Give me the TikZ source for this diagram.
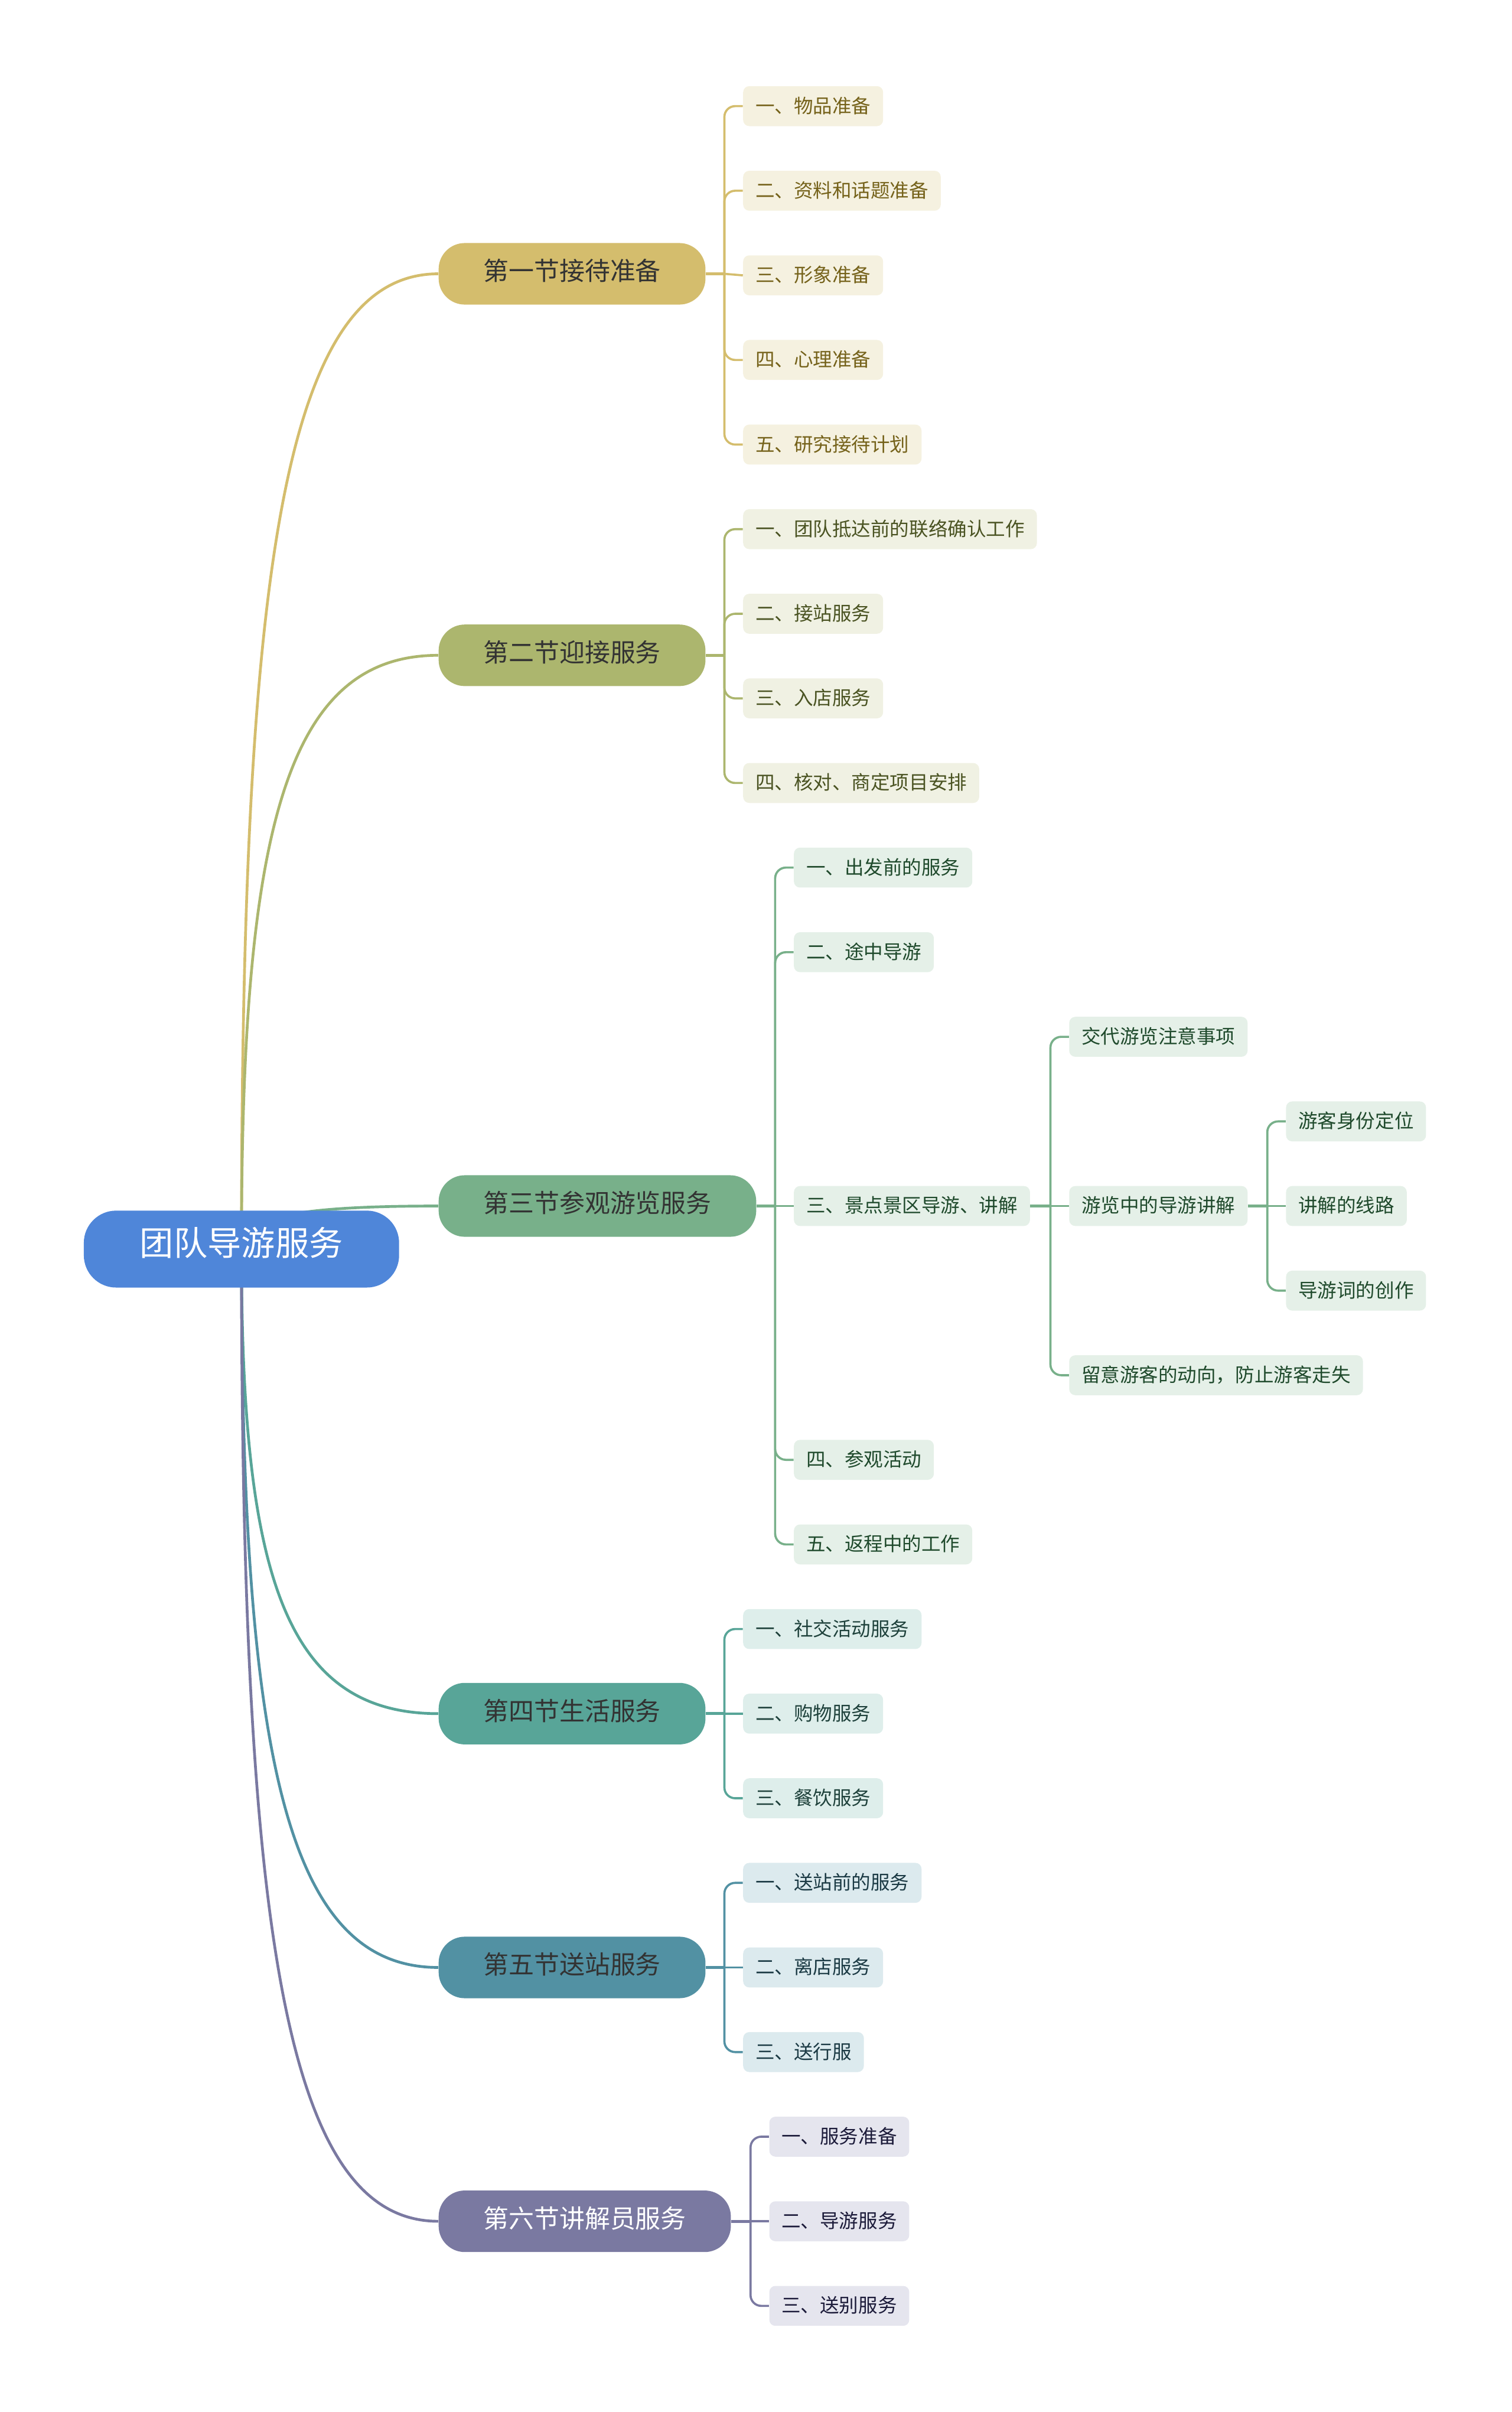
\documentclass[tikz,border=0pt]{standalone}
\usepackage{fontspec}
\setmainfont{Noto Sans CJK SC}
\usepackage{tikz}
\usetikzlibrary{positioning,calc,backgrounds}

\definecolor{rootc}{HTML}{4F86D9}
\definecolor{pillA}{HTML}{D4BD6D}\definecolor{leafA}{HTML}{F5F1E0}\definecolor{txtA}{HTML}{75621A}
\definecolor{pillB}{HTML}{ACB66E}\definecolor{leafB}{HTML}{F0F1E3}\definecolor{txtB}{HTML}{4A5322}
\definecolor{pillC}{HTML}{78B08A}\definecolor{leafC}{HTML}{E5F0E8}\definecolor{txtC}{HTML}{1F4A2C}
\definecolor{pillD}{HTML}{58A598}\definecolor{leafD}{HTML}{DEEEEB}\definecolor{txtD}{HTML}{1E413B}
\definecolor{pillE}{HTML}{5291A3}\definecolor{leafE}{HTML}{DCEAEE}\definecolor{txtE}{HTML}{1B3A44}
\definecolor{pillF}{HTML}{7A79A1}\definecolor{leafF}{HTML}{E5E5EE}\definecolor{txtF}{HTML}{1C1B3A}

\begin{document}
\begin{tikzpicture}[x=1pt, y=-1pt,
  rootnd/.style={fill=rootc, text=white, rounded corners=21pt, minimum width=205pt,
             minimum height=50pt, font=\fontsize{22}{26}\selectfont,
             text height=0.94em, text depth=0.06em},
  sec/.style={rounded corners=17pt, minimum height=40pt, inner xsep=29pt, anchor=west,
             font=\fontsize{16.5}{20}\selectfont, text height=0.94em, text depth=0.06em, text=black!80},
  leaf/.style={rounded corners=4pt, minimum height=26pt, inner xsep=8pt, anchor=west,
             font=\fontsize{12.5}{15}\selectfont, text height=0.94em, text depth=0.06em},
  lk/.style={line width=1.4pt, rounded corners=7pt},
  trunk/.style={line width=1.8pt},
]
\useasboundingbox (0,0) rectangle (983,1568);

% ====== root ======
\node[rootnd] (root) at (157,812) {团队导游服务};

% ====== 1: reception preparation ======
\node[sec, fill=pillA] (s1) at (285,178) {第一节接待准备};
\coordinate (j1) at (471,178);
\node[leaf, fill=leafA, text=txtA] (n1a) at (483,69)  {一、物品准备};
\node[leaf, fill=leafA, text=txtA] (n1b) at (483,124) {二、资料和话题准备};
\node[leaf, fill=leafA, text=txtA] (n1c) at (483,179) {三、形象准备};
\node[leaf, fill=leafA, text=txtA] (n1d) at (483,234) {四、心理准备};
\node[leaf, fill=leafA, text=txtA] (n1e) at (483,289) {五、研究接待计划};

% ====== 2: welcome ======
\node[sec, fill=pillB] (s2) at (285,426) {第二节迎接服务};
\coordinate (j2) at (471,426);
\node[leaf, fill=leafB, text=txtB] (n2a) at (483,344) {一、团队抵达前的联络确认工作};
\node[leaf, fill=leafB, text=txtB] (n2b) at (483,399) {二、接站服务};
\node[leaf, fill=leafB, text=txtB] (n2c) at (483,454) {三、入店服务};
\node[leaf, fill=leafB, text=txtB] (n2d) at (483,509) {四、核对、商定项目安排};

% ====== 3: sightseeing ======
\node[sec, fill=pillC] (s3) at (285,784) {第三节参观游览服务};
\coordinate (j3) at (504,784);
\node[leaf, fill=leafC, text=txtC] (n3a) at (516,564)  {一、出发前的服务};
\node[leaf, fill=leafC, text=txtC] (n3b) at (516,619)  {二、途中导游};
\node[leaf, fill=leafC, text=txtC] (n3c) at (516,784)  {三、景点景区导游、讲解};
\node[leaf, fill=leafC, text=txtC] (n3d) at (516,949)  {四、参观活动};
\node[leaf, fill=leafC, text=txtC] (n3e) at (516,1004) {五、返程中的工作};
\coordinate (j3c) at (683,784);
\node[leaf, fill=leafC, text=txtC] (m3a) at (695,674) {交代游览注意事项};
\node[leaf, fill=leafC, text=txtC] (m3b) at (695,784) {游览中的导游讲解};
\node[leaf, fill=leafC, text=txtC] (m3c) at (695,894) {留意游客的动向，防止游客走失};
\coordinate (j3m) at (824,784);
\node[leaf, fill=leafC, text=txtC] (k3a) at (836,729) {游客身份定位};
\node[leaf, fill=leafC, text=txtC] (k3b) at (836,784) {讲解的线路};
\node[leaf, fill=leafC, text=txtC] (k3c) at (836,839) {导游词的创作};

% ====== 4: daily life ======
\node[sec, fill=pillD] (s4) at (285,1114) {第四节生活服务};
\coordinate (j4) at (471,1114);
\node[leaf, fill=leafD, text=txtD] (n4a) at (483,1059) {一、社交活动服务};
\node[leaf, fill=leafD, text=txtD] (n4b) at (483,1114) {二、购物服务};
\node[leaf, fill=leafD, text=txtD] (n4c) at (483,1169) {三、餐饮服务};

% ====== 5: seeing off ======
\node[sec, fill=pillE] (s5) at (285,1279) {第五节送站服务};
\coordinate (j5) at (471,1279);
\node[leaf, fill=leafE, text=txtE] (n5a) at (483,1224) {一、送站前的服务};
\node[leaf, fill=leafE, text=txtE] (n5b) at (483,1279) {二、离店服务};
\node[leaf, fill=leafE, text=txtE] (n5c) at (483,1334) {三、送行服};

% ====== 6: guide ======
\node[sec, fill=pillF, text=white] (s6) at (285,1444) {第六节讲解员服务};
\coordinate (j6) at (488,1444);
\node[leaf, fill=leafF, text=txtF] (n6a) at (500,1389) {一、服务准备};
\node[leaf, fill=leafF, text=txtF] (n6b) at (500,1444) {二、导游服务};
\node[leaf, fill=leafF, text=txtF] (n6c) at (500,1499) {三、送别服务};

\begin{scope}[on background layer]
% root -> sections
\draw[trunk, pillA] (root.center) .. controls ($(root.center)!0.7!(root.center |- s1.west)$) and ($(s1.west)+(-100,0)$) .. (s1.west);
\draw[trunk, pillB] (root.center) .. controls ($(root.center)!0.7!(root.center |- s2.west)$) and ($(s2.west)+(-100,0)$) .. (s2.west);
\draw[trunk, pillC] (root.center) .. controls ($(root.center)!0.7!(root.center |- s3.west)$) and ($(s3.west)+(-100,0)$) .. (s3.west);
\draw[trunk, pillD] (root.center) .. controls ($(root.center)!0.7!(root.center |- s4.west)$) and ($(s4.west)+(-100,0)$) .. (s4.west);
\draw[trunk, pillE] (root.center) .. controls ($(root.center)!0.7!(root.center |- s5.west)$) and ($(s5.west)+(-100,0)$) .. (s5.west);
\draw[trunk, pillF] (root.center) .. controls ($(root.center)!0.7!(root.center |- s6.west)$) and ($(s6.west)+(-100,0)$) .. (s6.west);
\end{scope}

% sections -> items
\draw[lk, pillA, line width=2pt] (s1.east) -- (j1);
\draw[lk, pillA] (j1) |- (n1a.west);
\draw[lk, pillA] (j1) |- (n1b.west);
\draw[lk, pillA] (j1) -- (n1c.west);
\draw[lk, pillA] (j1) |- (n1d.west);
\draw[lk, pillA] (j1) |- (n1e.west);

\draw[lk, pillB, line width=2pt] (s2.east) -- (j2);
\draw[lk, pillB] (j2) |- (n2a.west);
\draw[lk, pillB] (j2) |- (n2b.west);
\draw[lk, pillB] (j2) |- (n2c.west);
\draw[lk, pillB] (j2) |- (n2d.west);

\draw[lk, pillC, line width=2pt] (s3.east) -- (j3);
\draw[lk, pillC] (j3) |- (n3a.west);
\draw[lk, pillC] (j3) |- (n3b.west);
\draw[lk, pillC] (j3) -- (n3c.west);
\draw[lk, pillC] (j3) |- (n3d.west);
\draw[lk, pillC] (j3) |- (n3e.west);
\draw[lk, pillC, line width=2pt] (n3c.east) -- (j3c);
\draw[lk, pillC] (j3c) |- (m3a.west);
\draw[lk, pillC] (j3c) -- (m3b.west);
\draw[lk, pillC] (j3c) |- (m3c.west);
\draw[lk, pillC, line width=2pt] (m3b.east) -- (j3m);
\draw[lk, pillC] (j3m) |- (k3a.west);
\draw[lk, pillC] (j3m) -- (k3b.west);
\draw[lk, pillC] (j3m) |- (k3c.west);

\draw[lk, pillD, line width=2pt] (s4.east) -- (j4);
\draw[lk, pillD] (j4) |- (n4a.west);
\draw[lk, pillD] (j4) -- (n4b.west);
\draw[lk, pillD] (j4) |- (n4c.west);

\draw[lk, pillE, line width=2pt] (s5.east) -- (j5);
\draw[lk, pillE] (j5) |- (n5a.west);
\draw[lk, pillE] (j5) -- (n5b.west);
\draw[lk, pillE] (j5) |- (n5c.west);

\draw[lk, pillF, line width=2pt] (s6.east) -- (j6);
\draw[lk, pillF] (j6) |- (n6a.west);
\draw[lk, pillF] (j6) -- (n6b.west);
\draw[lk, pillF] (j6) |- (n6c.west);

\end{tikzpicture}
\end{document}
